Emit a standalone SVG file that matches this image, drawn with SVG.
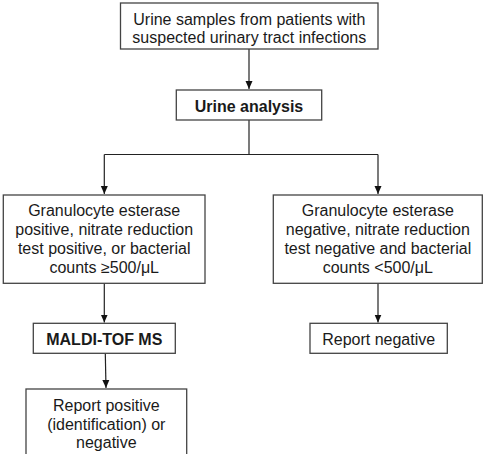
<svg xmlns="http://www.w3.org/2000/svg" width="486" height="454" viewBox="0 0 486 454">
<defs>
<style>
.box{fill:#fff;stroke:#444;stroke-width:1.3}
.t{font-family:"Liberation Sans",Arial,sans-serif;font-size:16px;fill:#1a1a1a;text-anchor:middle}
.b{font-weight:bold}
.c{fill:none;stroke:#222;stroke-width:1.2}
</style>
<marker id="ah" viewBox="0 0 8 8" refX="8" refY="4" markerWidth="8" markerHeight="8" markerUnits="userSpaceOnUse" orient="auto">
<path d="M0,0.5 L8,4 L0,7.5 Z" fill="#111"/>
</marker>
</defs>
<rect width="486" height="454" fill="#fff"/>
<g id="connectors">
<line class="c" x1="249" y1="49" x2="249" y2="89" marker-end="url(#ah)"/>
<polyline class="c" points="249,120 249,154.5"/>
<line class="c" x1="104.3" y1="154.5" x2="378" y2="154.5"/>
<line class="c" x1="104.3" y1="154.5" x2="104.3" y2="194" marker-end="url(#ah)"/>
<line class="c" x1="378" y1="154.5" x2="378" y2="194" marker-end="url(#ah)"/>
<line class="c" x1="104.3" y1="283.3" x2="104.3" y2="322.5" marker-end="url(#ah)"/>
<line class="c" x1="378" y1="283.3" x2="378" y2="322.5" marker-end="url(#ah)"/>
<line class="c" x1="105.3" y1="353.3" x2="106" y2="388" marker-end="url(#ah)"/>
</g>
<g id="samples">
<rect class="box" x="120.5" y="3" width="257.5" height="46"/>
<text class="t" x="249.3" y="24.8">Urine samples from patients with</text>
<text class="t" x="249.3" y="42.8">suspected urinary tract infections</text>
</g>
<g id="analysis">
<rect class="box" x="176.3" y="90" width="145.4" height="30"/>
<text class="t b" x="249" y="111.5">Urine analysis</text>
</g>
<g id="positive">
<rect class="box" x="3.3" y="195" width="201.7" height="88.3"/>
<text class="t" x="104.2" y="216">Granulocyte esterase</text>
<text class="t" x="104.2" y="235">positive, nitrate reduction</text>
<text class="t" x="104.2" y="254">test positive, or bacterial</text>
<text class="t" x="104.2" y="273">counts ≥500/μL</text>
</g>
<g id="negative">
<rect class="box" x="273.3" y="195" width="209" height="88.3"/>
<text class="t" x="377.8" y="216">Granulocyte esterase</text>
<text class="t" x="377.8" y="235">negative, nitrate reduction</text>
<text class="t" x="377.8" y="254">test negative and bacterial</text>
<text class="t" x="377.8" y="273">counts &lt;500/μL</text>
</g>
<g id="maldi">
<rect class="box" x="33.3" y="323.3" width="142" height="30"/>
<text class="t b" x="104.3" y="345">MALDI-TOF MS</text>
</g>
<g id="report-negative">
<rect class="box" x="310" y="323.3" width="137.3" height="30"/>
<text class="t" x="378.7" y="345">Report negative</text>
</g>
<g id="report-positive">
<rect class="box" x="26" y="389" width="160.7" height="80"/>
<text class="t" x="106.3" y="410.7">Report positive</text>
<text class="t" x="106.3" y="429.5">(identification) or</text>
<text class="t" x="106.3" y="447.5">negative</text>
</g>
</svg>
